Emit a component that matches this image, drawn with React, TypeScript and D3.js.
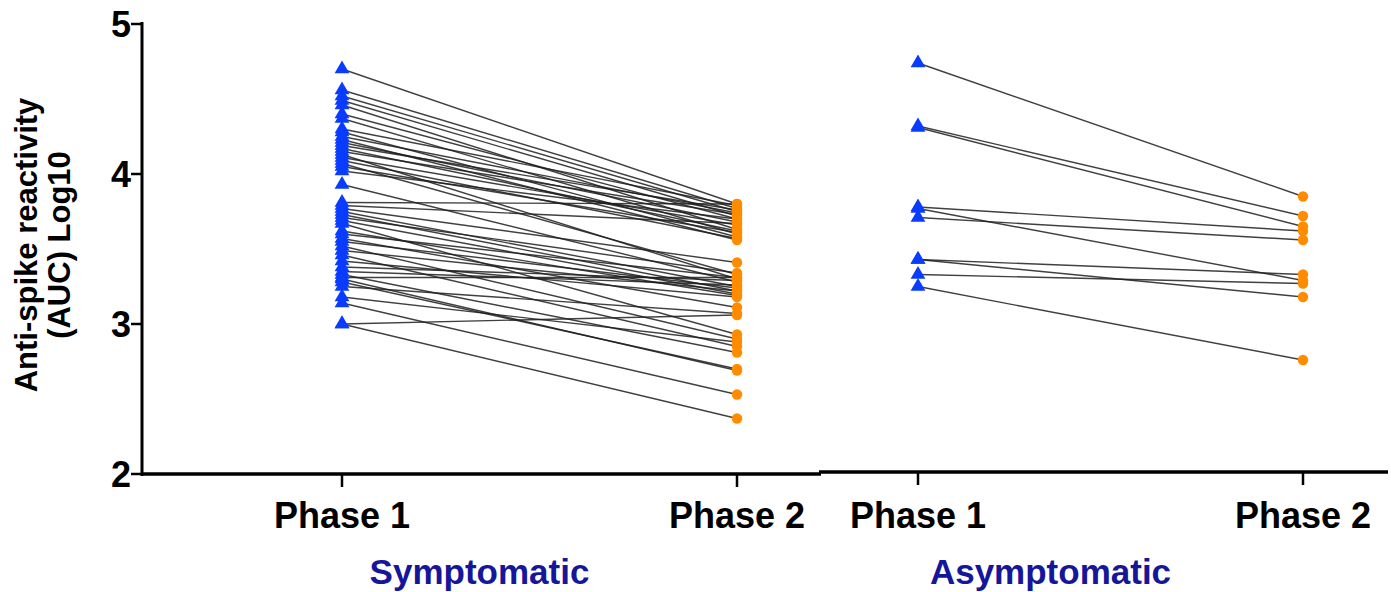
import React from 'react';
import * as d3 from 'd3';

const phases = ['Phase 1', 'Phase 2'];
const groups = ['Symptomatic', 'Asymptomatic'];
const yTicks = [2, 3, 4, 5];

// paired values: phase 1 / phase 2 for each subject
const sympPhase1 = [
  4.7, 4.56, 4.52, 4.49, 4.46, 4.4, 4.37, 4.3, 4.28, 4.25, 4.23, 4.21, 4.19, 4.17, 4.15, 4.13, 4.11,
  4.09, 4.07, 4.05, 4.02, 3.93, 3.81, 3.79, 3.77, 3.75, 3.73, 3.71, 3.69, 3.67, 3.62, 3.6, 3.57, 3.55,
  3.52, 3.49, 3.46, 3.42, 3.38, 3.35, 3.33, 3.31, 3.3, 3.28, 3.25, 3.18, 3.14, 3.0, 3.0,
];
const sympPhase2 = [
  3.8, 3.77, 3.75, 3.72, 3.63, 3.7, 3.6, 3.79, 3.58, 3.74, 3.56, 3.68, 3.76, 3.62, 3.73, 3.3, 3.66,
  3.57, 3.33, 3.61, 3.7, 3.28, 3.8, 3.67, 3.41, 3.25, 3.22, 3.34, 3.2, 2.93, 3.19, 3.31, 3.11, 3.24,
  2.9, 3.22, 2.85, 3.18, 3.29, 3.26, 2.81, 3.31, 2.69, 2.7, 3.07, 2.88, 2.53, 3.06, 2.37,
];
const asymPhase1 = [4.74, 4.32, 4.31, 3.78, 3.77, 3.71, 3.43, 3.43, 3.33, 3.25];
const asymPhase2 = [3.85, 3.72, 3.65, 3.62, 3.29, 3.56, 3.33, 3.18, 3.27, 2.76];

const W = 1391;
const H = 592;
const font = '"Liberation Sans", Arial, sans-serif';

export default function App() {
  const y = d3.scaleLinear().domain([2, 5]).range([474, 24]);
  const xSymp = d3.scalePoint<string>().domain(phases).range([342, 737]);
  const xAsym = d3.scalePoint<string>().domain(phases).range([918, 1303]);
  const tri = d3.symbol().type(d3.symbolTriangle).size(95)() as string;

  const panels = [
    { name: groups[0], x: xSymp, p1: sympPhase1, p2: sympPhase2, axisY: 474, x0: 142, x1: 821 },
    { name: groups[1], x: xAsym, p1: asymPhase1, p2: asymPhase2, axisY: 472, x0: 819, x1: 1388 },
  ];

  return (
    <svg width={W} height={H} style={{ position: 'absolute', left: 0, top: 0, background: '#fff' }}>
      {/* y axis */}
      <line x1={142} x2={142} y1={22} y2={476} stroke="#000" strokeWidth={3} />
      {yTicks.map((t) => (
        <g key={t}>
          <line x1={131} x2={142} y1={y(t)} y2={y(t)} stroke="#000" strokeWidth={2.5} />
          <text x={131} y={y(t) + 13} textAnchor="end" fontFamily={font} fontWeight="bold" fontSize={36}>
            {t}
          </text>
        </g>
      ))}
      <text
        transform="translate(37,245) rotate(-90)"
        textAnchor="middle"
        fontFamily={font}
        fontWeight="bold"
        fontSize={31}
      >
        <tspan x={0} dy={0}>Anti-spike reactivity</tspan>
        <tspan x={0} dy={33}>(AUC) Log10</tspan>
      </text>

      {panels.map((p) => (
        <g key={p.name}>
          <line x1={p.x0} x2={p.x1} y1={p.axisY} y2={p.axisY} stroke="#000" strokeWidth={3.5} />
          {phases.map((ph) => (
            <g key={ph}>
              <line x1={p.x(ph)} x2={p.x(ph)} y1={p.axisY} y2={p.axisY + 13} stroke="#000" strokeWidth={2.5} />
              <text
                x={p.x(ph)}
                y={528}
                textAnchor="middle"
                fontFamily={font}
                fontWeight="bold"
                fontSize={36}
              >
                {ph}
              </text>
            </g>
          ))}
          <text
            x={((p.x('Phase 1') as number) + (p.x('Phase 2') as number)) / 2 - 60}
            y={584}
            textAnchor="middle"
            fontFamily={font}
            fontWeight="bold"
            fontSize={35}
            fill="#16169a"
          >
            {p.name}
          </text>
          {p.p1.map((v, i) => (
            <line
              key={'l' + i}
              x1={p.x('Phase 1')}
              y1={y(v)}
              x2={p.x('Phase 2')}
              y2={y(p.p2[i])}
              stroke="#1e1e1e"
              strokeOpacity={0.85}
              strokeWidth={1.4}
            />
          ))}
          {p.p1.map((v, i) => (
            <path key={'t' + i} d={tri} transform={`translate(${p.x('Phase 1')},${y(v)})`} fill="#0a3cff" />
          ))}
          {p.p2.map((v, i) => (
            <circle key={'c' + i} cx={p.x('Phase 2')} cy={y(v)} r={5.2} fill="#ff8c00" />
          ))}
        </g>
      ))}
    </svg>
  );
}
